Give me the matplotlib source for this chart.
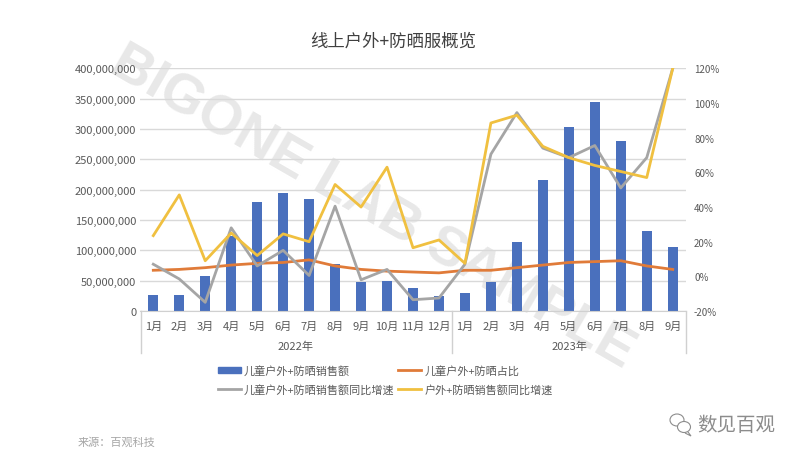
import matplotlib.pyplot as plt
from matplotlib.patches import Ellipse, Polygon
from matplotlib.lines import Line2D
from matplotlib.patches import Patch

plt.rcParams['font.family'] = ['Noto Sans CJK SC', 'DejaVu Sans']

months = ['1月', '2月', '3月', '4月', '5月', '6月', '7月', '8月', '9月', '10月', '11月', '12月',
          '1月', '2月', '3月', '4月', '5月', '6月', '7月', '8月', '9月']
years = ['2022年', '2023年']
sales = [27e6, 27e6, 58e6, 124e6, 179e6, 194e6, 185e6, 77e6, 47e6, 50e6, 38e6, 25e6,
         29e6, 47e6, 114e6, 216e6, 303e6, 344e6, 281e6, 132e6, 106e6]
share = [3.5, 4, 5, 6.5, 7.5, 8, 9.5, 6, 4, 3, 2.5, 2,
         3.5, 3.5, 5, 6.5, 8, 8.5, 9, 6, 4]
kids_growth = [7, -1.5, -15, 28, 6, 15, 0.5, 40.5, -2, 4, -13.5, -12.5,
               7, 70.5, 94.5, 74, 68.5, 75.5, 51, 68.5, 120]
all_growth = [23.5, 47, 9, 25, 12, 24.5, 20, 53, 40, 63, 16.5, 21,
              7.5, 88.5, 93, 75, 68.5, 64, 60.5, 57, 120]
left_ticks = list(range(0, 400000001, 50000000))
right_ticks = list(range(-20, 121, 20))

W, H = 800, 460
fig = plt.figure(figsize=(8, 4.6), dpi=100)

# 水印放在最底层
fig.text(372 / W, 1 - 208 / H, 'BIGONE LAB SAMPLE', fontsize=40, color='#e8e8e8',
         rotation=-30, ha='center', va='center', rotation_mode='anchor',
         family='Liberation Sans', weight='bold', zorder=-1)

ax = fig.add_axes([140.3 / W, 1 - 312 / H, 545.4 / W, 242.6 / H])
ax.patch.set_alpha(0)
x = list(range(len(months)))
ax.bar(x, sales, width=0.4, color='#4a70bd', zorder=2)
ax.set_xlim(-0.5, 20.5)
ax.set_ylim(0, 400000000)
ax.set_yticks(left_ticks)
ax.set_yticklabels([f'{v:,}' for v in left_ticks], fontsize=8, color='#595959')
ax.set_xticks(x)
ax.set_xticklabels(months, fontsize=8, color='#595959')
ax.tick_params(length=0)
ax.tick_params(axis='x', pad=7)
ax.tick_params(axis='y', pad=3)
ax.grid(axis='y', color='#d9d9d9', lw=1, zorder=1)
ax.set_axisbelow(True)
for s in ax.spines.values():
    s.set_visible(False)
ax.spines['bottom'].set_visible(True)
ax.spines['bottom'].set_color('#d0d0d0')

ax2 = ax.twinx()
ax2.patch.set_alpha(0)
ax2.plot(x, share, color='#e07b39', lw=2, zorder=3)
ax2.plot(x, kids_growth, color='#a5a5a5', lw=2, zorder=4)
ax2.plot(x, all_growth, color='#f0c040', lw=2, zorder=5)
ax2.set_ylim(-20, 120)
ax2.set_yticks(right_ticks)
ax2.set_yticklabels([f'{v}%' for v in right_ticks], fontsize=7, color='#595959')
ax2.tick_params(length=0, pad=6)
for s in ax2.spines.values():
    s.set_visible(False)

# 两层x轴的分隔线
for px in [140.8, 452, 685.7]:
    fig.add_artist(Line2D([px / W, px / W], [1 - 312 / H, 1 - 354 / H], color='#d0d0d0', lw=1))
fig.text(296 / W, 1 - 347 / H, years[0], fontsize=8, color='#595959', ha='center', va='center')
fig.text(569 / W, 1 - 347 / H, years[1], fontsize=8, color='#595959', ha='center', va='center')

fig.text(393 / W, 1 - 42 / H, '线上户外+防晒服概览', fontsize=12.5, color='#404040', ha='center', va='center')

handles = [Patch(color='#4a70bd'),
           Line2D([], [], color='#a5a5a5', lw=2),
           Line2D([], [], color='#e07b39', lw=2),
           Line2D([], [], color='#f0c040', lw=2)]
labels = ['儿童户外+防晒销售额', '儿童户外+防晒销售额同比增速', '儿童户外+防晒占比', '户外+防晒销售额同比增速']
fig.legend(handles, labels, ncol=2, frameon=False, fontsize=8, labelcolor='#595959',
           loc='center left', bbox_to_anchor=(218 / W, 1 - 381 / H),
           handlelength=2.05, handleheight=0.5, handletextpad=0.3, columnspacing=0.3,
           labelspacing=0.75, borderpad=0, borderaxespad=0)

fig.text(78 / W, 1 - 442 / H, '来源：百观科技', fontsize=8, color='#a6a6a6', ha='left', va='center')

# 公众号标识
fig.text(697 / W, 1 - 426 / H, '数见百观', fontsize=14, color='#8c8c8c', ha='left', va='center')
fig.add_artist(Ellipse((677 / W, 1 - 421 / H), 14 / W, 12 / H, fill=False, ec='#8c8c8c', lw=0.8))
fig.add_artist(Ellipse((684 / W, 1 - 428 / H), 13 / W, 11 / H, fc='white', ec='#8c8c8c', lw=0.8))
fig.add_artist(Polygon([(688 / W, 1 - 433 / H), (691 / W, 1 - 437 / H), (685 / W, 1 - 434 / H)],
                       closed=False, fill=False, ec='#8c8c8c', lw=0.8))

fig.savefig('out.png', dpi=100)
